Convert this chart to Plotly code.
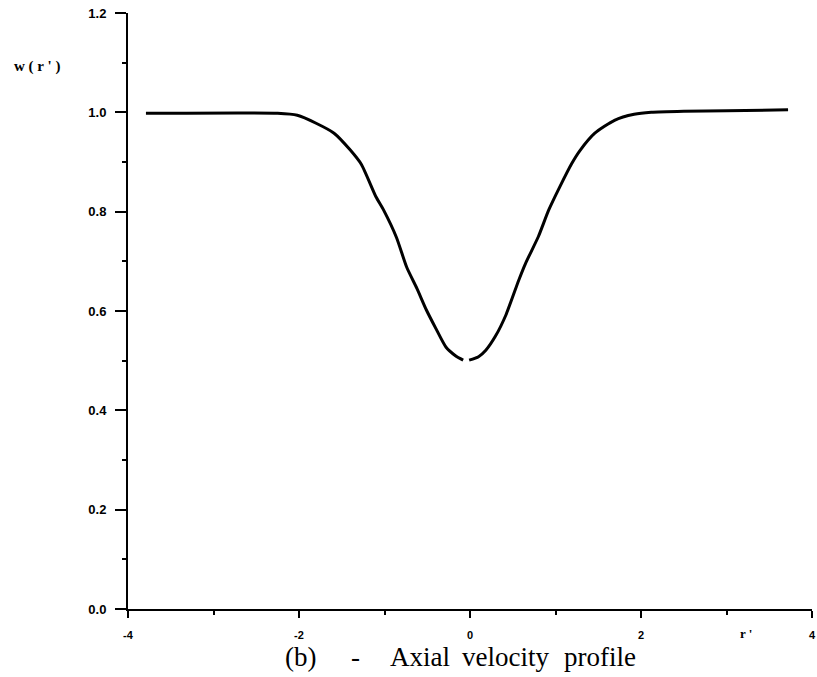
import plotly.graph_objects as go

# Axial velocity profile w(r') -- left and right branches (gap near the minimum)
r_left = [-3.79, -2.25, -2.02, -1.80, -1.59, -1.40, -1.27, -1.10, -1.01, -0.86,
          -0.74, -0.62, -0.51, -0.40, -0.28, -0.17, -0.08]
w_left = [0.998, 0.998, 0.994, 0.978, 0.958, 0.924, 0.895, 0.830, 0.803, 0.748,
          0.688, 0.645, 0.602, 0.565, 0.527, 0.510, 0.501]
r_right = [-0.01, 0.10, 0.185, 0.30, 0.42, 0.57, 0.65, 0.80, 0.92, 1.05, 1.19,
           1.29, 1.46, 1.69, 1.92, 2.12, 2.50, 3.00, 3.72]
w_right = [0.501, 0.508, 0.521, 0.550, 0.592, 0.662, 0.696, 0.750, 0.803, 0.850,
           0.897, 0.924, 0.958, 0.984, 0.996, 1.000, 1.002, 1.003, 1.005]

x_ticks = [-4, -2, 0, 2, 4]
x_tick_labels = ["-4", "-2", "0", "2", "4"]
y_ticks = [0.0, 0.2, 0.4, 0.6, 0.8, 1.0, 1.2]
y_tick_labels = ["0.0", "0.2", "0.4", "0.6", "0.8", "1.0", "1.2"]

y_label = "w ( r ' )"
x_label = "r '"
caption_words = ["(b)", "-", "Axial", "velocity", "profile"]

fig = go.Figure()
for rs, ws in ((r_left, w_left), (r_right, w_right)):
    fig.add_trace(go.Scatter(x=rs, y=ws, mode="lines",
                             line=dict(color="black", width=3, shape="spline", smoothing=0.6),
                             showlegend=False, hoverinfo="skip"))

fig.update_xaxes(range=[-4, 4], tickmode="array", tickvals=x_ticks, ticktext=x_tick_labels,
                 showline=True, linecolor="black", linewidth=2, showgrid=False, zeroline=False,
                 ticks="outside", ticklen=7, tickwidth=2, tickcolor="black",
                 tickfont=dict(family="Liberation Sans", size=11, color="black", weight="bold"),
                 ticklabelstandoff=8, ticklabeloverflow="allow",
                 minor=dict(tickmode="array", tickvals=[-3, -1, 1, 3], ticks="outside",
                            ticklen=4, tickwidth=2, tickcolor="black", showgrid=False))
fig.update_yaxes(range=[0, 1.2], tickmode="array", tickvals=y_ticks, ticktext=y_tick_labels,
                 showline=True, linecolor="black", linewidth=2, showgrid=False, zeroline=False,
                 ticks="outside", ticklen=11, tickwidth=2, tickcolor="black",
                 tickfont=dict(family="Liberation Sans", size=13, color="black", weight="bold"),
                 ticklabelstandoff=6, ticklabeloverflow="allow",
                 minor=dict(tickmode="array", tickvals=[0.1, 0.3, 0.5, 0.7, 0.9, 1.1],
                            ticks="outside", ticklen=4, tickwidth=2, tickcolor="black",
                            showgrid=False))

W, H = 817, 677
L, R, T, B = 128, 1, 13, 68
pw, ph = W - L - R, H - T - B


def px(xp):
    return (xp - L) / pw


def py(yp):
    return (H - B - yp) / ph


annotations = [
    dict(text=y_label, x=px(11), y=py(66), xanchor="left", yanchor="middle",
         font=dict(family="Liberation Serif", size=15, color="black", weight="bold")),
    dict(text=x_label, x=px(742), y=py(633), xanchor="left", yanchor="middle",
         font=dict(family="Liberation Serif", size=13, color="black", weight="bold")),
]
cap_pos = [284, 350, 390, 462, 565]
for word, xp in zip(caption_words, cap_pos):
    annotations.append(dict(text=word, x=px(xp), y=py(657), xanchor="left", yanchor="middle",
                            font=dict(family="Liberation Serif", size=27, color="black")))
for a in annotations:
    a.update(xref="paper", yref="paper", showarrow=False)

fig.update_layout(width=W, height=H, margin=dict(l=L, r=R, t=T, b=B),
                  paper_bgcolor="white", plot_bgcolor="white", annotations=annotations)

fig.write_html("out.html")
